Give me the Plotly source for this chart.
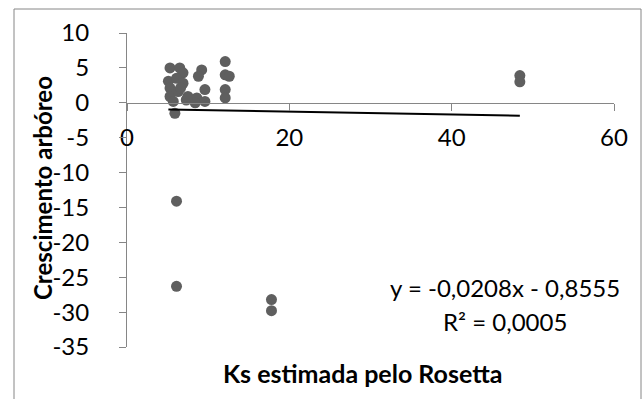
import plotly.graph_objects as go

# Data
ks_rosetta = [5.3, 6.5, 6.9, 9.2, 8.8, 12.1, 12.1, 12.6, 5.1, 6.1, 6.9, 5.3, 5.3, 6.3,
              5.7, 5.9, 7.3, 8.6, 9.6, 9.6, 8.4, 12.1, 12.1, 6.6, 7.5,
              6.1, 6.1, 17.8, 17.8, 48.4, 48.4]
crescimento = [5.0, 5.0, 4.3, 4.7, 3.8, 5.9, 4.0, 3.8, 3.1, 3.5, 2.8, 2.1, 0.9, 1.6,
               0.2, -1.5, 0.4, 0.7, 1.9, 0.2, 0.0, 1.9, 0.7, 2.1, 0.9,
               -14.1, -26.3, -28.2, -29.8, 3.9, 3.0]
trend_slope = -0.0208
trend_intercept = -0.8555
x_ticks = [0, 20, 40, 60]
y_ticks = [10, 5, 0, -5, -10, -15, -20, -25, -30, -35]

FONT = "Lato"
GREY = "#868686"

x_min, x_max = min(ks_rosetta), max(ks_rosetta)
trend_x = [x_min, x_max]
trend_y = [trend_slope * v + trend_intercept for v in trend_x]

fig = go.Figure()
fig.add_trace(go.Scatter(x=ks_rosetta, y=crescimento, mode="markers",
                         marker=dict(color="#5f5f5f", size=11, line=dict(width=0)),
                         showlegend=False))
fig.add_trace(go.Scatter(x=trend_x, y=trend_y, mode="lines",
                         line=dict(color="black", width=2), showlegend=False))

y_lo, y_hi = -35, 10
zero_pos = (0 - y_lo) / (y_hi - y_lo)

fig.update_layout(
    width=644, height=399,
    margin=dict(l=127, r=30, t=33, b=52),
    paper_bgcolor="white", plot_bgcolor="white",
    font=dict(family=FONT, size=24, color="black"),
    xaxis=dict(range=[0, 60], tickvals=x_ticks, ticktext=[str(v) for v in x_ticks],
               showgrid=False, zeroline=False, showline=True, linecolor=GREY, linewidth=1,
               ticks="outside", ticklen=7, tickcolor=GREY, tickwidth=1,
               anchor="free", position=zero_pos, side="bottom",
               ticklabelstandoff=6, tickfont=dict(family=FONT, size=24)),
    yaxis=dict(range=[y_lo, y_hi], tickvals=y_ticks, ticktext=[str(v) for v in y_ticks],
               showgrid=False, zeroline=False, showline=True, linecolor=GREY, linewidth=1,
               ticks="outside", ticklen=7, tickcolor=GREY, tickwidth=1,
               ticklabelstandoff=25, tickfont=dict(family=FONT, size=24)),
)

# chart border
fig.add_shape(type="rect", xref="paper", yref="paper",
              x0=(14 - 127) / 487, x1=(641 - 127) / 487,
              y0=(347 - 401) / 314, y1=(347 - 9) / 314,
              line=dict(color=GREY, width=1), fillcolor="rgba(0,0,0,0)", layer="above")

# axis titles
fig.add_annotation(text="<b>Ks estimada pelo Rosetta</b>", xref="paper", yref="paper",
                   x=(362 - 127) / 487, y=(347 - 373) / 314, showarrow=False,
                   xanchor="center", yanchor="middle", font=dict(family=FONT, size=25))
fig.add_annotation(text="<b>Crescimento arbóreo</b>", xref="paper", yref="paper",
                   x=(42 - 127) / 487, y=(347 - 188) / 314, showarrow=False, textangle=-90,
                   xanchor="center", yanchor="middle", font=dict(family=FONT, size=24))

# trendline equation
fig.add_annotation(text="y = -0,0208x - 0,8555", x=46.6, y=-26.5, showarrow=False,
                   xanchor="center", yanchor="middle", font=dict(family=FONT, size=24))
fig.add_annotation(text="R² = 0,0005", x=46.6, y=-31.4, showarrow=False,
                   xanchor="center", yanchor="middle", font=dict(family=FONT, size=24))

fig.write_html("out.html", config={"displayModeBar": False},
               post_script="document.body.style.margin='0';")
